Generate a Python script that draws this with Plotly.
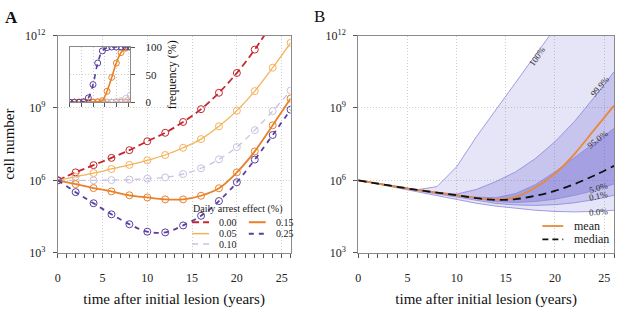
import plotly.graph_objects as go

SERIF = "Liberation Serif"
W, H = 617, 313

# ---------------- data ----------------
years = [0, 2, 4, 6, 8, 10, 12, 14, 16, 18, 20, 22, 24, 26]

# Panel A: log10(cell number) for each daily arrest effect (%)
arrest_labels = ["0.00", "0.05", "0.10", "0.15", "0.25"]
log_cells_000 = [6.0, 6.33, 6.63, 6.93, 7.25, 7.62, 7.97, 8.42, 8.95, 9.63, 10.45, 11.42, 12.55, 13.8]
log_cells_005 = [6.0, 6.15, 6.30, 6.47, 6.64, 6.83, 7.05, 7.35, 7.71, 8.24, 8.89, 9.70, 10.67, 11.70]
log_cells_010 = [6.0, 6.0, 6.0, 6.01, 6.03, 6.07, 6.12, 6.26, 6.50, 6.87, 7.38, 8.08, 8.87, 9.72]
log_cells_015 = [6.0, 5.84, 5.68, 5.54, 5.38, 5.29, 5.21, 5.21, 5.36, 5.67, 6.33, 7.20, 8.28, 9.39]
log_cells_025 = [6.0, 5.51, 5.05, 4.59, 4.18, 3.87, 3.84, 4.13, 4.53, 5.14, 5.92, 6.86, 7.88, 8.93]

# Inset: frequency (%)
freq_000 = [0, 0, 0, 0, 0, 0, 0, 0, 0, 0, 0, 0, 0, 0]
freq_005 = [0, 0, 0, 0, 0, 0, 0, 0, 0, 0, 0, 0, 0, 1]
freq_010 = [0, 0, 0, 0, 0, 0, 0, 0, 0, 0, 1, 3, 7, 13]
freq_015 = [0, 0, 0, 0, 0, 0, 1, 3, 20, 45, 71, 90, 98, 100]
freq_025 = [0, 0, 0, 1, 8, 32, 71, 93, 99, 100, 100, 100, 100, 100]

# Panel B: log10(cell number) quantiles, mean and median
q_100 = [6.0, 5.86, 5.73, 5.61, 5.74, 6.56, 7.8, 8.95, 10.1, 11.25, 12.4, 13.5, 14.6, 15.7]
q_999 = [6.0, 5.86, 5.73, 5.6, 5.5, 5.43, 5.62, 5.95, 6.35, 6.9, 7.6, 8.45, 9.45, 10.5]
q_950 = [6.0, 5.86, 5.73, 5.6, 5.49, 5.39, 5.3, 5.28, 5.45, 5.82, 6.35, 6.95, 7.55, 8.15]
q_050 = [6.0, 5.86, 5.73, 5.6, 5.48, 5.36, 5.22, 5.12, 5.08, 5.12, 5.22, 5.38, 5.58, 5.85]
q_001 = [6.0, 5.85, 5.71, 5.57, 5.44, 5.3, 5.15, 5.04, 4.98, 4.96, 4.99, 5.07, 5.2, 5.38]
q_000 = [6.0, 5.84, 5.69, 5.54, 5.38, 5.2, 5.05, 4.93, 4.83, 4.76, 4.71, 4.69, 4.71, 4.76]
log_mean = [6.0, 5.86, 5.73, 5.6, 5.49, 5.38, 5.27, 5.2, 5.3, 5.7, 6.28, 7.1, 8.1, 9.1]
log_median = [6.0, 5.86, 5.73, 5.6, 5.49, 5.38, 5.26, 5.19, 5.22, 5.36, 5.56, 5.85, 6.2, 6.6]
quantile_labels = ["100%", "99.9%", "95.0%", "5.0%", "0.1%", "0.0%"]

x_tickvals = [0, 5, 10, 15, 20, 25]
y_tickvals = [1e3, 1e6, 1e9, 1e12]
y_ticktext = ["10<sup>3</sup>", "10<sup>6</sup>", "10<sup>9</sup>", "10<sup>12</sup>"]

# ---------------- styles ----------------
series_A = [
    (arrest_labels[0], log_cells_000, freq_000, "#c4262e", 1.8, "7px,4px"),
    (arrest_labels[1], log_cells_005, freq_005, "#f3b35a", 1.3, "solid"),
    (arrest_labels[2], log_cells_010, freq_010, "#c9c1e2", 1.3, "6px,5px"),
    (arrest_labels[3], log_cells_015, freq_015, "#e8822a", 1.8, "solid"),
    (arrest_labels[4], log_cells_025, freq_025, "#5a3f9f", 1.8, "5px,5px"),
]


def px_x(p):
    return p / W


def px_y(p):
    return (H - p) / H


fig = go.Figure()

for name, vals, freq, color, lw, dash in series_A:
    fig.add_trace(go.Scatter(
        x=years, y=[10 ** v for v in vals], name=name, mode="lines+markers",
        line=dict(color=color, width=lw, dash=dash, shape="spline"),
        marker=dict(symbol="circle-open", size=7, color=color, line=dict(width=1)),
        xaxis="x", yaxis="y", showlegend=False))

for name, vals, freq, color, lw, dash in series_A:
    fig.add_trace(go.Scatter(
        x=years, y=freq, name=name, mode="lines+markers",
        line=dict(color=color, width=lw * 0.9, dash=dash, shape="spline"),
        marker=dict(symbol="circle-open", size=6, color=color, line=dict(width=1)),
        xaxis="x3", yaxis="y3", showlegend=False))

# Panel B bands
band_line = dict(color="#8a86dc", width=0.8)
bands = [
    (q_000, q_100, "rgba(100,90,205,0.16)"),
    (q_001, q_999, "rgba(100,90,205,0.23)"),
    (q_050, q_950, "rgba(100,90,205,0.34)"),
]
for lo, hi, fc in bands:
    fig.add_trace(go.Scatter(x=years, y=[10 ** v for v in lo], mode="lines",
                             line=band_line, xaxis="x2", yaxis="y2", showlegend=False))
    fig.add_trace(go.Scatter(x=years, y=[10 ** v for v in hi], mode="lines",
                             line=band_line, fill="tonexty", fillcolor=fc,
                             xaxis="x2", yaxis="y2", showlegend=False))

fig.add_trace(go.Scatter(x=years, y=[10 ** v for v in log_mean], name="mean", mode="lines",
                         line=dict(color="#e8893a", width=1.8, shape="spline"),
                         xaxis="x2", yaxis="y2", showlegend=False))
fig.add_trace(go.Scatter(x=years, y=[10 ** v for v in log_median], name="median", mode="lines",
                         line=dict(color="#111111", width=1.8, dash="8px,5px", shape="spline"),
                         xaxis="x2", yaxis="y2", showlegend=False))

# ---------------- axes ----------------
tickfont = dict(family=SERIF, size=12, color="#222")
grid = dict(showgrid=True, gridcolor="#cfcfcf", griddash="1px,2px", gridwidth=1)


def xaxis_common(domain, anchor):
    return dict(domain=domain, anchor=anchor, range=[0, 26], tickvals=x_tickvals,
                ticks="outside", ticklen=4, tickwidth=1, tickcolor="#555",
                showline=True, linecolor="#8a8a8a", linewidth=1, mirror=True,
                zeroline=False, tickfont=tickfont, ticklabelstandoff=10,
                minor=dict(dtick=1, tick0=0, ticks="outside", ticklen=4,
                           tickcolor="#555", showgrid=False),
                title=dict(text="time after initial lesion (years)",
                           font=dict(family=SERIF, size=15, color="#111"), standoff=9),
                **grid)


def yaxis_common(domain, anchor):
    return dict(domain=domain, anchor=anchor, type="log", range=[3, 12],
                tickvals=y_tickvals, ticktext=y_ticktext,
                ticks="outside", ticklen=4, tickwidth=1, tickcolor="#555",
                showline=True, linecolor="#8a8a8a", linewidth=1, mirror=True,
                zeroline=False, tickfont=tickfont, ticklabelstandoff=5, **grid)


ydom = [px_y(257), px_y(29)]
yA = yaxis_common(ydom, "x")
yA["title"] = dict(text="cell number", font=dict(family=SERIF, size=15, color="#111"), standoff=6)

fig.update_layout(
    width=W, height=H,
    margin=dict(l=0, r=0, t=0, b=0),
    paper_bgcolor="white", plot_bgcolor="white",
    font=dict(family=SERIF, color="#222", size=12),
    xaxis=xaxis_common([px_x(55), px_x(289)], "y"),
    yaxis=yA,
    xaxis2=xaxis_common([px_x(357), px_x(614)], "y2"),
    yaxis2=yaxis_common(ydom, "x2"),
    xaxis3=dict(domain=[px_x(67), px_x(128)], anchor="y3", range=[0, 26],
                tickvals=x_tickvals, ticks="outside", ticklen=4, tickcolor="#555",
                showticklabels=False, showline=True, linecolor="#8a8a8a", mirror=True,
                zeroline=False, **grid),
    yaxis3=dict(domain=[px_y(99), px_y(41)], anchor="x3", side="right", range=[0, 100],
                tickvals=[0, 50, 100], ticks="outside", ticklen=4, tickcolor="#555",
                showline=True, linecolor="#8a8a8a", mirror=True, zeroline=False,
                tickfont=dict(family=SERIF, size=11, color="#222"), ticklabelstandoff=8,
                title=dict(text="frequency (%)", font=dict(family=SERIF, size=12, color="#111"),
                           standoff=6),
                **grid),
    showlegend=False,
)

# ---------------- annotations / legend keys ----------------
ann = []
shapes = []


def paper_text(text, x, y, size, xanchor="center", color="#222"):
    return dict(text=text, x=px_x(x), y=px_y(y), xref="paper", yref="paper",
                xanchor=xanchor, yanchor="middle", showarrow=False,
                font=dict(family=SERIF, size=size, color=color))


ann.append(paper_text("<b>A</b>", 9, 10, 17, color="#111"))
ann.append(paper_text("B", 318, 9, 17, color="#111"))

# Panel A legend (manual, two columns)
ann.append(paper_text("Daily arrest effect (%)", 236, 211, 10))
legend_pos = [(190, 225), (190, 237), (190, 248), (247, 225), (247, 237)]
for (name, vals, freq, color, lw, dash), (lx, ly) in zip(series_A, legend_pos):
    shapes.append(dict(type="line", xref="paper", yref="paper",
                       x0=px_x(lx), x1=px_x(lx + 17), y0=px_y(ly), y1=px_y(ly),
                       line=dict(color=color, width=lw + 0.2, dash=dash)))
    ann.append(paper_text(name, lx + 25, ly, 10, xanchor="left"))

# Panel B legend
for label, color, dash, ly in [("mean", "#e8893a", "solid", 229), ("median", "#111111", "6px,4px", 243)]:
    shapes.append(dict(type="line", xref="paper", yref="paper",
                       x0=px_x(542), x1=px_x(563), y0=px_y(ly), y1=px_y(ly),
                       line=dict(color=color, width=1.8, dash=dash)))
    ann.append(paper_text(label, 572, ly, 12, xanchor="left"))

# Panel B quantile labels
label_pos = [(18.2, 11.17, -55), (24.6, 9.91, -50), (24.4, 7.7, -38),
             (24.4, 5.68, -17), (24.4, 5.33, -12), (24.4, 4.70, -4)]
for text, (lx, ly, ang) in zip(quantile_labels, label_pos):
    ann.append(dict(text=text, x=lx, y=ly, xref="x2", yref="y2", showarrow=False,
                    xanchor="center", yanchor="middle",
                    textangle=ang, font=dict(family=SERIF, size=9, color="#333")))

fig.update_layout(annotations=ann, shapes=shapes)

fig.write_html("out.html", config={"displayModeBar": False},
               post_script="document.body.style.margin='0';document.body.style.overflow='hidden';")
